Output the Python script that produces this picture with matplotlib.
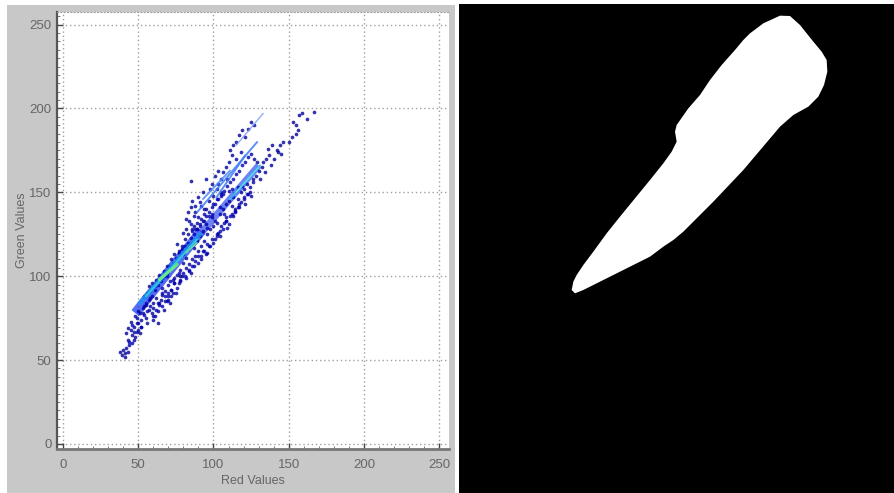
import matplotlib
matplotlib.use("Agg")
import matplotlib.pyplot as plt
from matplotlib.patches import Rectangle

# dark speckle (red, green)
dots_red = [38,39,40,41,42,43,41,44,43,42,43,45,46,48,47,45,49,50,51,52,48,50,53,55,56,54,57,59,61,63,
            64,60,62,65,66,68,70,56,54,57,59,62,64,67,69,72,74,66,73,76,78,75,80,82,84,86,88,90,92,94,
            77,79,76,81,83,85,87,89,91,93,96,98,100,102,99,104,106,108,110,112,114,116,118,120,122,124,126,128,130,132,
            135,137,140,142,144,146,139,136,133,129,127,82,84,80,83,85,82,87,90,88,86,90,93,95,97,100,102,99,101,103,
            105,106,108,110,112,111,113,115,117,119,121,123,125,127,94,85,150,152,155,156,155,153,157,159,162,167,
            70,72,68,74,71,78,82,85,92,95,97,101,104,107,109,113,117,121,125,131,134,138,143,145,
            47,49,52,55,58,60,63,67,70,73,77,79,83,86,89,92,95,105,103,108]
dots_green = [55,53,56,54,57,55,52,59,62,66,69,68,65,64,70,73,72,68,66,74,76,79,78,75,72,82,80,78,76,79,
              83,84,87,86,89,91,95,90,88,94,96,98,101,103,106,110,113,99,98,101,104,107,108,111,107,110,112,115,118,121,
              115,118,119,122,125,120,117,121,124,127,125,128,130,132,135,137,140,143,145,142,140,146,150,152,155,150,158,160,163,165,
              170,172,170,175,178,180,178,176,168,168,170,128,133,126,138,141,134,130,135,138,145,147,150,140,145,148,152,155,160,163,
              158,162,165,168,172,175,178,180,184,187,183,188,192,190,140,157,180,183,185,187,190,192,196,197,194,198,
              88,92,85,96,84,100,105,102,110,113,118,122,124,132,129,136,141,143,148,158,162,166,174,173,
              62,67,70,83,87,74,72,80,86,90,96,100,116,128,132,134,131,150,126,135]

# second pass over the thick part of the band
more_red = [44,46,46,47,49,50,51,52,53,54,55,56,57,58,59,60,61,62,63,64,65,66,67,68,69,70,71,72,73,74,
            75,76,77,78,79,80,81,82,83,84,85,86,87,88,89,90,91,92,93,94,95,96,97,98,99,100,101,102,103,104,
            105,106,107,108,109,110,111,112,113,114,115,116,117,118,119,120,121,122,123,124,125,126,
            58,61,64,66,69,71,74,77,80,83,86,88,91,94,96,99,101,104,107,110,113,116,119,
            60,63,66,69,72,75,78,81,84,87,90,93,96,99,102,105,108,111,114,117,120,123,
            85,87,89,92,94,97,100,103,106,109,112,115,118,88,91,95,98,102,105]
more_green = [61,60,71,67,75,72,78,70,81,77,84,79,86,82,88,76,92,80,95,84,97,82,100,88,102,90,106,92,108,96,
              111,93,114,97,116,102,118,99,120,104,123,106,125,109,128,108,131,112,133,115,136,114,138,118,141,120,143,124,146,127,
              149,128,151,133,154,131,156,137,158,139,161,141,163,144,166,147,168,149,171,153,173,156,
              91,94,97,93,100,97,99,102,113,116,127,128,130,133,129,137,133,141,137,151,147,153,154,
              81,84,90,85,88,90,98,100,103,106,112,115,119,122,125,130,133,136,138,143,146,149,
              131,136,128,142,137,136,143,155,149,158,152,170,174,142,144,158,152,146,148]

# streaks: start and end of each line
streak_r0 = [48, 92, 51, 89, 102, 93, 111, 115]
streak_g0 = [78, 126, 84, 138, 147, 146, 146, 178]
streak_r1 = [92, 130, 91, 129, 121, 111, 131, 133]
streak_g1 = [127, 166, 125, 180, 172, 163, 166, 197]
streak_colors = ['#1030f0', '#1030f0', '#1f8ff0', '#3f7df5', '#3f7df5', '#4f8df5', '#35b8f0', '#7f9ff8']
streak_widths = [7, 5, 3.2, 1.4, 1.4, 1.4, 1.6, 1.0]
streak_alpha = [0.7, 0.6, 0.85, 0.85, 0.85, 0.85, 0.85, 0.85]

# bright core of the density
core_r0 = [55, 64, 82, 115]
core_g0 = [88, 98, 114, 150]
core_r1 = [89, 76, 89, 130]
core_g1 = [122, 107, 120, 165]
core_colors = ['#30d0e0', '#70f080', '#70e0a0', '#60e0e0']
core_widths = [1.4, 2.2, 1.2, 1.0]

xticks = [0, 50, 100, 150, 200, 250]
yticks = [0, 50, 100, 150, 200, 250]

# outline of the white mask, in 3x pixel units of the right panel
mask_x = [365,370,380,400,430,470,510,555,600,640,665,680,675,680,715,750,780,815,855,880,900,940,990,
          1020,1050,1090,1115,1130,1132,1122,1105,1075,1030,990,935,880,790,700,670,640,600,550,500,430,400,375]
mask_y = [870,845,825,795,755,700,650,595,540,490,455,425,395,375,325,285,240,195,150,120,100,70,47,
          48,75,125,155,180,215,255,290,320,345,380,445,510,605,695,720,740,770,795,820,855,870,880]

W, H = 894, 493
fig = plt.figure(figsize=(W / 100, H / 100), dpi=100, facecolor='white')
fig.add_artist(Rectangle((7 / W, 0), 448 / W, 488 / H, transform=fig.transFigure,
                         facecolor='#c8c8c8', edgecolor='none', zorder=-1))

ax = fig.add_axes([57 / W, (H - 449) / H, 392 / W, 437 / H], facecolor='white')
ax.set_xlim(-4, 256.5)
ax.set_ylim(-3, 257.5)
ax.grid(True, color='#a0a0a0', linestyle=(0, (1, 2)), linewidth=1.0)
ax.set_axisbelow(True)
ax.set_xticks(xticks)
ax.set_yticks(yticks)
ax.set_xticks(range(0, 256, 10), minor=True)
ax.set_yticks(range(0, 256, 5), minor=True)
ax.tick_params(axis='both', which='major', labelsize=9.5, labelcolor='#666666', color='#444444',
               length=4, width=1, direction='in')
ax.tick_params(axis='x', which='major', pad=7)
ax.tick_params(axis='y', which='major', pad=4)
ax.tick_params(axis='both', which='minor', color='#777777', length=2, width=0.7, direction='in')
ax.set_xlabel('Red Values', fontsize=9, color='#666666', labelpad=3, family='Liberation Sans')
ax.set_ylabel('Green Values', fontsize=9, color='#666666', labelpad=1, family='Liberation Sans')
for lab in ax.get_xticklabels() + ax.get_yticklabels():
    lab.set_family('Liberation Sans')
ax.spines['left'].set_color('#555555')
ax.spines['left'].set_linewidth(1.6)
ax.spines['bottom'].set_color('#777777')
ax.spines['bottom'].set_linewidth(2)
ax.spines['top'].set_color('#a0a0a0')
ax.spines['top'].set_linestyle((0, (1, 2)))
ax.spines['right'].set_visible(False)

for i in range(2):
    ax.plot([streak_r0[i], streak_r1[i]], [streak_g0[i], streak_g1[i]], color=streak_colors[i],
            lw=streak_widths[i], alpha=streak_alpha[i], solid_capstyle='butt', zorder=2)
ax.scatter(dots_red, dots_green, s=7, c='#00009a', alpha=0.8, linewidths=0, zorder=3)
ax.scatter(more_red, more_green, s=7, c='#0000b4', alpha=0.8, linewidths=0, zorder=3)
for i in range(2, len(streak_r0)):
    ax.plot([streak_r0[i], streak_r1[i]], [streak_g0[i], streak_g1[i]], color=streak_colors[i],
            lw=streak_widths[i], alpha=streak_alpha[i], solid_capstyle='round', zorder=4)
for i in range(len(core_r0)):
    ax.plot([core_r0[i], core_r1[i]], [core_g0[i], core_g1[i]], color=core_colors[i],
            lw=core_widths[i], alpha=0.9, solid_capstyle='round', zorder=5)

ax2 = fig.add_axes([459 / W, 0, 435 / W, (H - 4) / H], facecolor='black')
ax2.set_xlim(27, 1332)
ax2.set_ylim(1479, 12)
ax2.fill(mask_x, mask_y, color='white', linewidth=0)
ax2.set_xticks([])
ax2.set_yticks([])
for s in ax2.spines.values():
    s.set_visible(False)

fig.savefig('out.png', dpi=100)
